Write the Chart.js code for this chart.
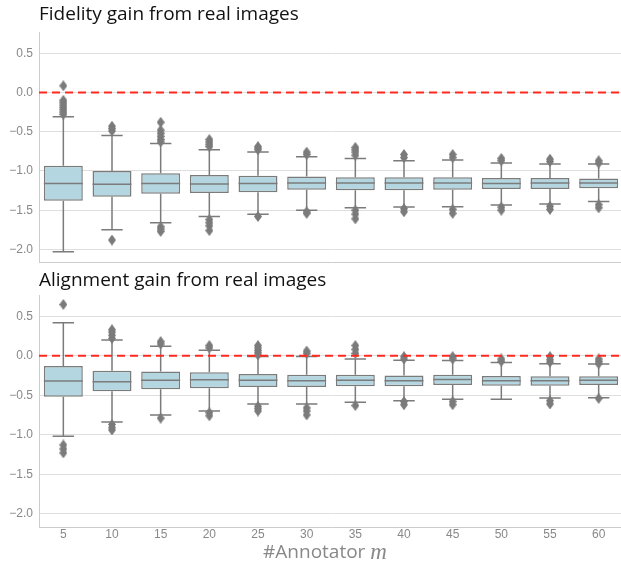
<!DOCTYPE html>
<html>
<head>
<title>Gain from real images</title>
<script src="https://cdn.jsdelivr.net/npm/chart.js"></script>
<style>
    html, body { margin: 0; padding: 0; background: #fff; overflow: hidden; }
    .panel { position: absolute; left: 0; }
    #top { top: 0; }
    #bottom { top: 268px; }
</style>
</head>
<body>
<div class="panel" id="top"><canvas id="fidelityChart" width="623" height="276"></canvas></div>
<div class="panel" id="bottom"><canvas id="alignChart" width="623" height="299"></canvas></div>
<script>
// annotator counts on the x axis
var annotators = ['5', '10', '15', '20', '25', '30', '35', '40', '45', '50', '55', '60'];
var yTicks = [-2.0, -1.5, -1.0, -0.5, 0.0, 0.5];

// Fidelity gain: box stats per annotator count
var fidQ1 = [-1.38, -1.33, -1.29, -1.28, -1.27, -1.24, -1.245, -1.245, -1.24, -1.23, -1.23, -1.22];
var fidQ3 = [-0.935, -1.0, -1.03, -1.05, -1.06, -1.07, -1.08, -1.08, -1.08, -1.09, -1.09, -1.095];
var fidMed = [-1.16, -1.17, -1.16, -1.165, -1.16, -1.155, -1.155, -1.155, -1.155, -1.16, -1.155, -1.155];
var fidWhiskLo = [-2.03, -1.75, -1.66, -1.58, -1.55, -1.5, -1.47, -1.46, -1.455, -1.435, -1.42, -1.39];
var fidWhiskHi = [-0.31, -0.55, -0.65, -0.73, -0.76, -0.82, -0.84, -0.87, -0.86, -0.9, -0.91, -0.91];
var fidOutliers = [
    [0.085, -0.1, -0.13, -0.16, -0.19, -0.22, -0.25, -0.28],
    [-0.43, -0.46, -0.49, -1.88],
    [-0.38, -0.48, -0.52, -0.56, -0.6, -0.63, -1.71, -1.74, -1.77],
    [-0.6, -0.63, -0.66, -0.69, -1.62, -1.66, -1.7, -1.76],
    [-0.69, -0.71, -0.73, -1.58],
    [-0.76, -0.79, -1.52, -1.54],
    [-0.7, -0.73, -0.76, -0.8, -1.5, -1.55, -1.61],
    [-0.79, -0.83, -1.48, -1.52],
    [-0.79, -0.83, -1.49, -1.54],
    [-0.84, -0.87, -1.46, -1.5],
    [-0.85, -0.88, -1.45, -1.49],
    [-0.87, -0.9, -1.43, -1.47]
];

// Alignment gain: box stats per annotator count
var aliQ1 = [-0.52, -0.45, -0.425, -0.41, -0.395, -0.395, -0.385, -0.385, -0.37, -0.38, -0.38, -0.37];
var aliQ3 = [-0.13, -0.19, -0.2, -0.21, -0.23, -0.24, -0.24, -0.25, -0.24, -0.255, -0.26, -0.26];
var aliMed = [-0.32, -0.33, -0.31, -0.305, -0.31, -0.315, -0.31, -0.315, -0.3, -0.315, -0.315, -0.31];
var aliWhiskLo = [-1.02, -0.84, -0.75, -0.7, -0.61, -0.61, -0.59, -0.57, -0.55, -0.55, -0.535, -0.53];
var aliWhiskHi = [0.42, 0.2, 0.12, 0.07, -0.01, -0.01, -0.04, -0.055, -0.06, -0.085, -0.1, -0.105];
var aliOutliers = [
    [0.65, -1.13, -1.18, -1.23],
    [0.22, 0.26, 0.3, 0.33, -0.87, -0.91, -0.94],
    [0.15, 0.18, -0.79],
    [0.1, 0.13, -0.72, -0.76],
    [0.01, 0.04, 0.07, 0.1, 0.13, -0.64, -0.67, -0.7],
    [0.03, 0.06, -0.66, -0.7, -0.75],
    [0.03, 0.08, 0.13, -0.63],
    [-0.01, -0.04, -0.58, -0.62],
    [-0.01, -0.04, -0.58, -0.62],
    [-0.04, -0.07],
    [-0.01, -0.05, -0.08, -0.57, -0.61],
    [-0.04, -0.07, -0.1, -0.54]
];

var GRAY = '#7b7b7b';
var BOX = '#b3d6e0';
var SANS = '"Open Sans", Lato, sans-serif';

// thin diamond marker like seaborn's fliers
var diamond = document.createElement('canvas');
diamond.width = 8; diamond.height = 11;
(function() {
    var c = diamond.getContext('2d');
    c.fillStyle = GRAY;
    c.beginPath();
    c.moveTo(4, 0); c.lineTo(8, 5.5); c.lineTo(4, 11); c.lineTo(0, 5.5);
    c.closePath();
    c.fill();
})();

function fmt(v) {
    return v.toFixed(1).replace('-', '\u2212');
}

var boxPlugin = {
    id: 'boxExtras',
    beforeDatasetsDraw: function(chart) {
        var o = chart.options.plugins.boxExtras;
        var ctx = chart.ctx, x = chart.scales.x, y = chart.scales.y;
        var capHalf = x.width / annotators.length * 0.22;
        ctx.save();
        ctx.strokeStyle = GRAY;
        ctx.lineWidth = 1.5;
        for (var i = 0; i < annotators.length; i++) {
            var px = x.getPixelForValue(i);
            ctx.beginPath();
            ctx.moveTo(px, y.getPixelForValue(o.q3[i]));
            ctx.lineTo(px, y.getPixelForValue(o.hi[i]));
            ctx.moveTo(px, y.getPixelForValue(o.q1[i]));
            ctx.lineTo(px, y.getPixelForValue(o.lo[i]));
            ctx.moveTo(px - capHalf, y.getPixelForValue(o.hi[i]));
            ctx.lineTo(px + capHalf, y.getPixelForValue(o.hi[i]));
            ctx.moveTo(px - capHalf, y.getPixelForValue(o.lo[i]));
            ctx.lineTo(px + capHalf, y.getPixelForValue(o.lo[i]));
            ctx.stroke();
        }
        ctx.restore();
    },
    afterDatasetsDraw: function(chart) {
        var o = chart.options.plugins.boxExtras;
        var ctx = chart.ctx, x = chart.scales.x, y = chart.scales.y, area = chart.chartArea;
        var boxHalf = x.width / annotators.length * 0.4;
        ctx.save();
        ctx.strokeStyle = GRAY;
        ctx.lineWidth = 1.5;
        for (var i = 0; i < annotators.length; i++) {
            var px = x.getPixelForValue(i);
            var py = y.getPixelForValue(o.med[i]);
            ctx.beginPath();
            ctx.moveTo(px - boxHalf, py);
            ctx.lineTo(px + boxHalf, py);
            ctx.stroke();
        }
        // zero reference line
        var zy = y.getPixelForValue(0);
        ctx.strokeStyle = '#ff2a1f';
        ctx.lineWidth = 2;
        ctx.setLineDash([8, 5]);
        ctx.beginPath();
        ctx.moveTo(area.left, zy);
        ctx.lineTo(area.right, zy);
        ctx.stroke();
        ctx.restore();

        // panel title
        ctx.save();
        ctx.fillStyle = '#111';
        ctx.font = '19px ' + SANS;
        ctx.textBaseline = 'middle';
        ctx.fillText(o.title, area.left, o.titleY);
        if (o.xTitle) {
            ctx.fillStyle = '#888';
            ctx.font = '19px ' + SANS;
            var w1 = ctx.measureText('#Annotator ').width;
            ctx.font = 'italic 23px "Liberation Serif", "DejaVu Serif", serif';
            var w2 = ctx.measureText('m').width;
            var sx = 325 - (w1 + w2) / 2;
            ctx.font = '19px ' + SANS;
            ctx.fillText('#Annotator ', sx, o.xTitleY);
            ctx.font = 'italic 23px "Liberation Serif", "DejaVu Serif", serif';
            ctx.fillText('m', sx + w1, o.xTitleY);
        }
        ctx.restore();
    }
};

function outlierPoints(outs) {
    var pts = [];
    outs.forEach(function(list, i) {
        list.forEach(function(v) { pts.push({ x: annotators[i], y: v }); });
    });
    return pts;
}

function makeChart(id, q1, q3, med, lo, hi, outs, title, showX, padTop, padBottom, titleY) {
    var boxes = q1.map(function(v, i) { return [v, q3[i]]; });
    return new Chart(document.getElementById(id), {
        type: 'bar',
        data: {
            labels: annotators,
            datasets: [{
                data: boxes,
                backgroundColor: BOX,
                borderColor: GRAY,
                borderWidth: 1.5,
                borderSkipped: false,
                barPercentage: 0.8,
                categoryPercentage: 1.0,
                order: 2
            }, {
                type: 'scatter',
                data: outlierPoints(outs),
                pointStyle: diamond,
                pointRadius: 4,
                order: 1
            }]
        },
        options: {
            responsive: false,
            animation: false,
            layout: { autoPadding: false, padding: { top: padTop, bottom: padBottom, left: 0, right: 0 } },
            plugins: {
                legend: { display: false },
                tooltip: { enabled: false },
                boxExtras: {
                    q1: q1, q3: q3, med: med, lo: lo, hi: hi, title: title,
                    titleY: titleY, xTitle: showX, xTitleY: 285
                }
            },
            scales: {
                x: {
                    type: 'category',
                    offset: true,
                    grid: { display: false, drawTicks: false },
                    border: { display: true, color: '#cccccc', width: 1 },
                    afterFit: function(s) { if (!showX) s.height = 0; },
                    ticks: {
                        display: showX,
                        color: '#888',
                        padding: 0,
                        font: { family: '"Liberation Sans", Arial, sans-serif', size: 12 }
                    }
                },
                y: {
                    min: -2.17,
                    max: 0.77,
                    afterBuildTicks: function(s) {
                        s.ticks = yTicks.map(function(v) { return { value: v }; });
                    },
                    afterFit: function(s) { s.width = 39; },
                    grid: { color: '#dedede', lineWidth: 1, drawTicks: false },
                    border: { display: true, color: '#cccccc', width: 1 },
                    ticks: {
                        color: '#888',
                        padding: 6,
                        font: { family: '"Liberation Sans", Arial, sans-serif', size: 12 },
                        callback: function(v) { return fmt(v); }
                    }
                }
            }
        },
        plugins: [boxPlugin]
    });
}

makeChart('fidelityChart', fidQ1, fidQ3, fidMed, fidWhiskLo, fidWhiskHi, fidOutliers,
    'Fidelity gain from real images', false, 32, 6.5, 15);
makeChart('alignChart', aliQ1, aliQ3, aliMed, aliWhiskLo, aliWhiskHi, aliOutliers,
    'Alignment gain from real images', true, 27, 25.5, 13);
</script>
</body>
</html>
